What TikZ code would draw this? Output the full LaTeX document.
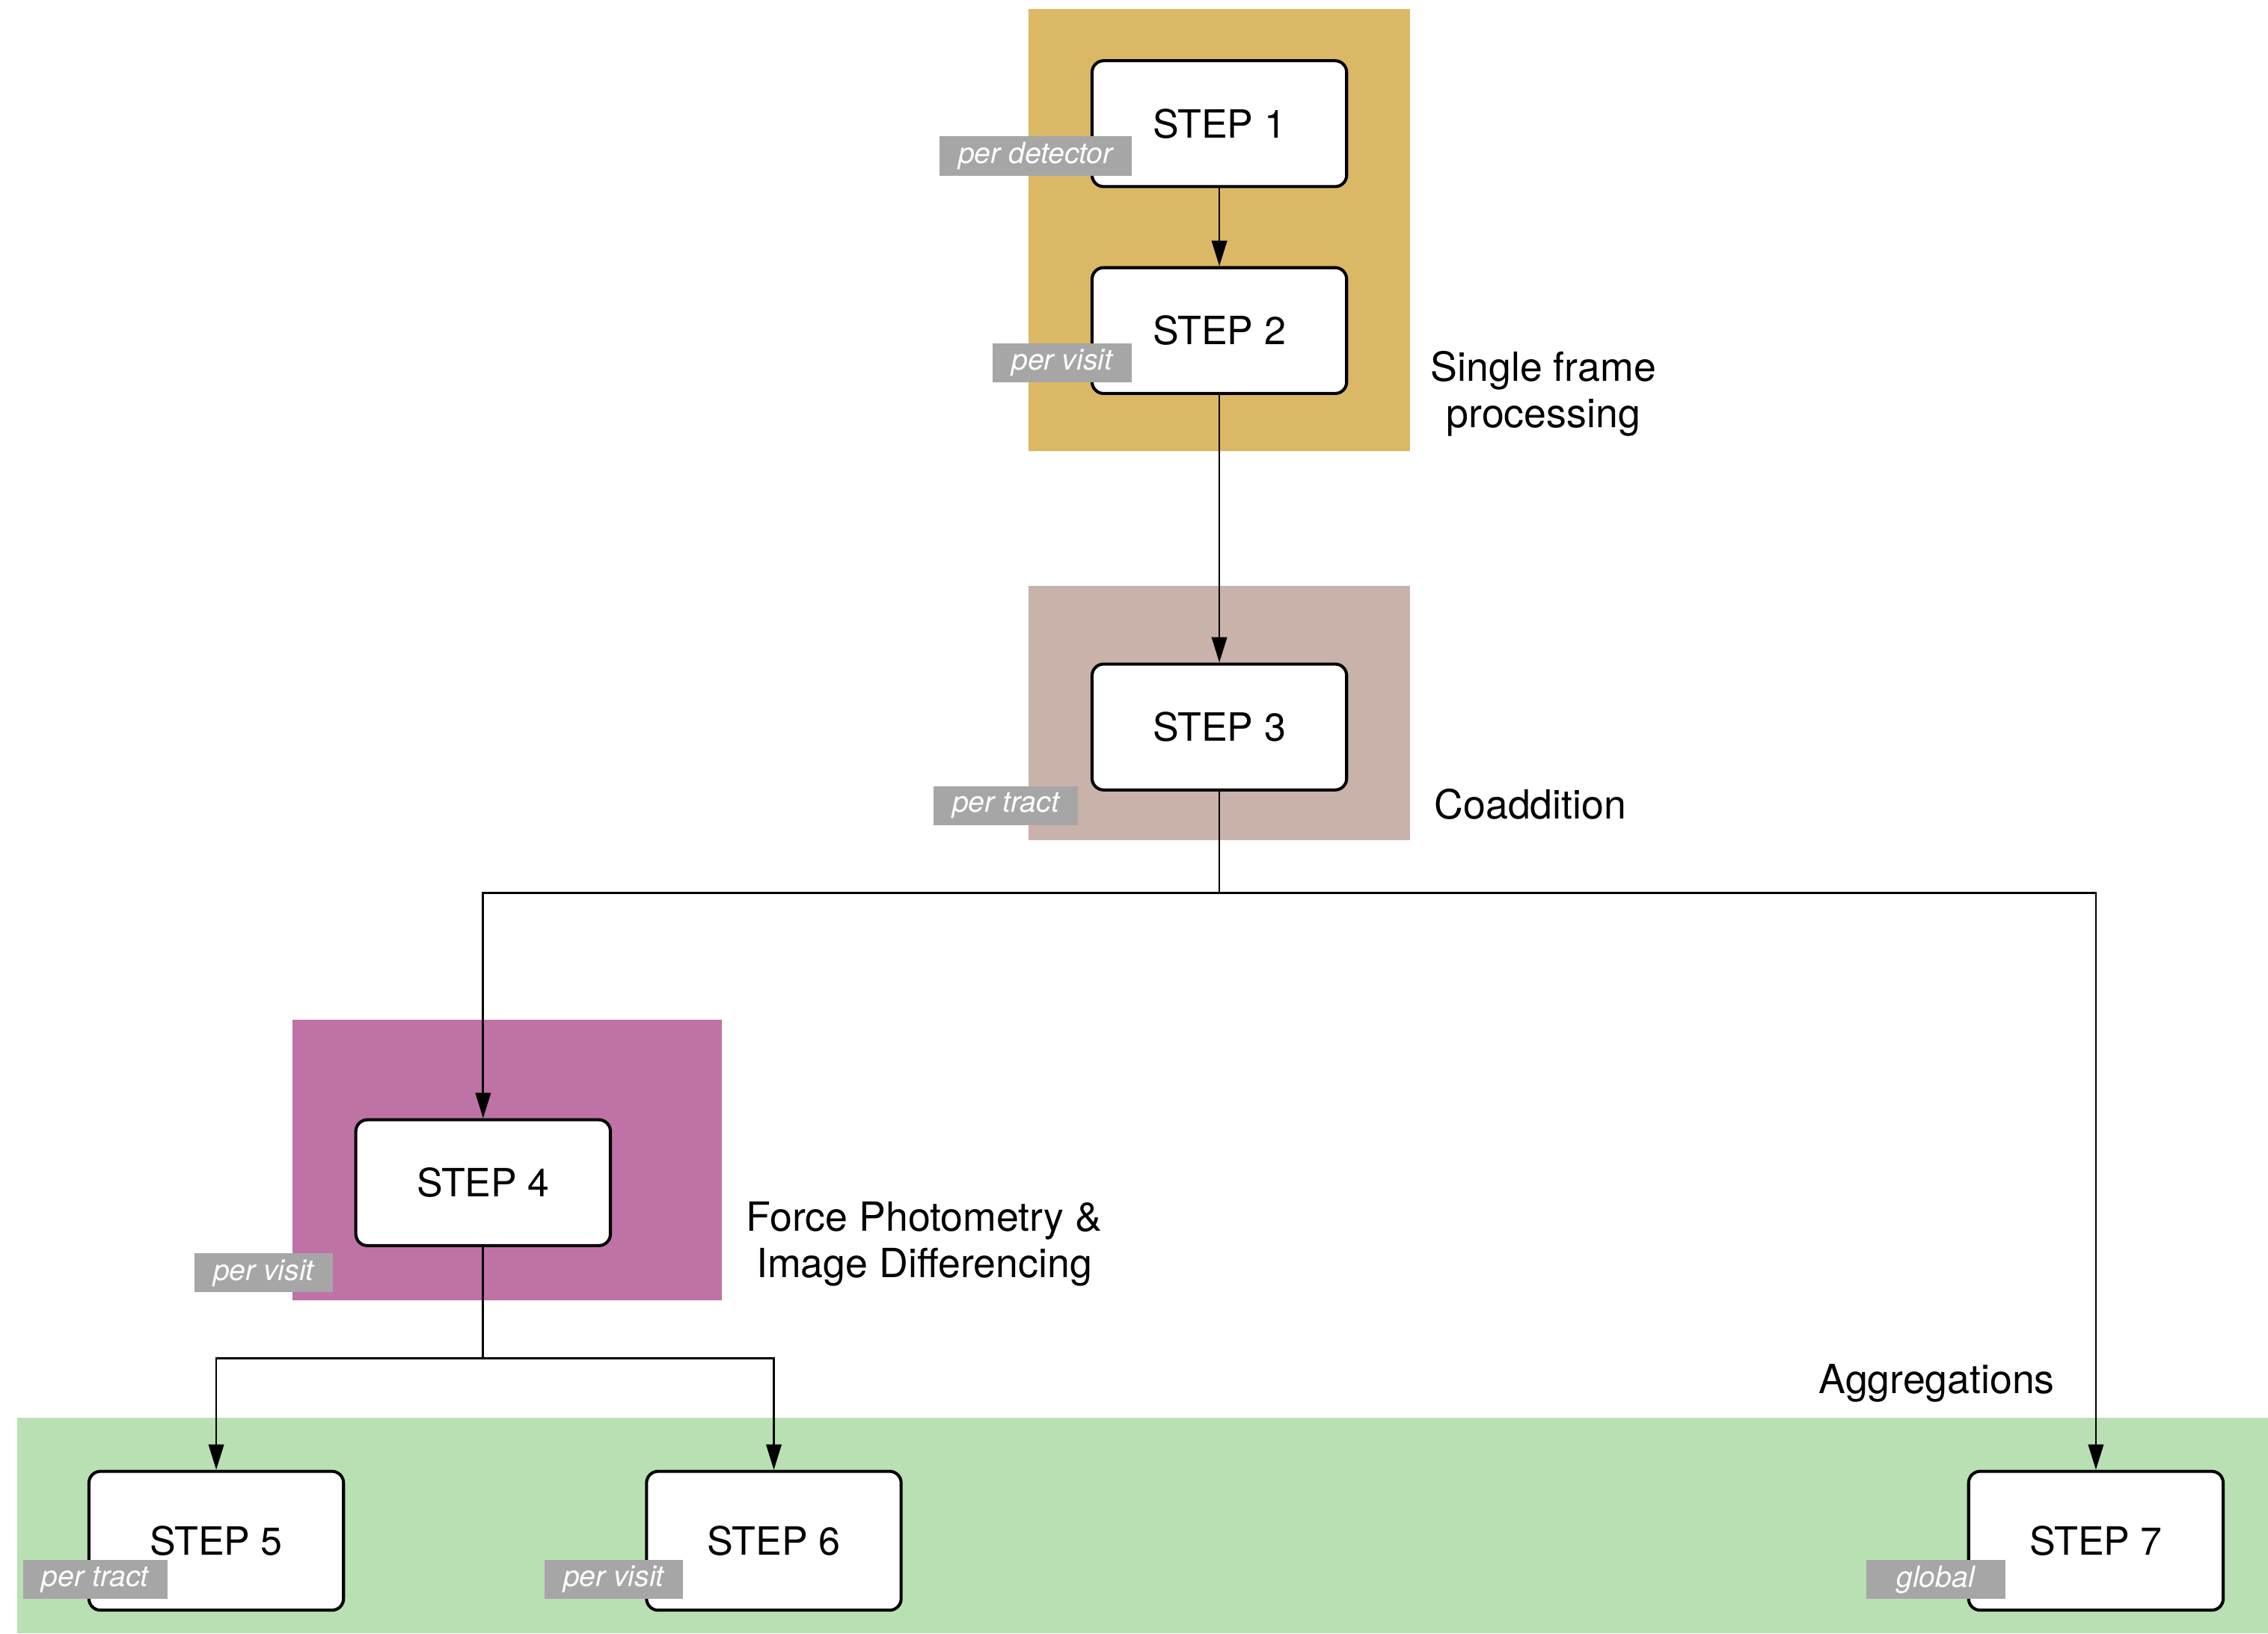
\documentclass[tikz,border=0pt]{standalone}
\usepackage{fontspec}
\setmainfont{TeX Gyre Heros}
\usepackage{tikz}
\usetikzlibrary{positioning,arrows.meta}
\definecolor{sfpgold}{RGB}{219,184,102}
\definecolor{coaddtaupe}{RGB}{201,178,170}
\definecolor{forcemagenta}{RGB}{191,114,166}
\definecolor{aggrgreen}{RGB}{185,224,179}
\definecolor{taggray}{RGB}{166,166,166}
\tikzset{
  stepbox/.style={draw, very thick, rounded corners=0.16cm, fill=white,
    minimum width=3.52cm, minimum height=1.74cm,
    font=\fontsize{15.3}{18}\selectfont},
  tag/.style={fill=taggray, text=white, anchor=south east,
    minimum width=1.92cm, minimum height=0.54cm, inner xsep=0.26cm, inner ysep=0pt,
    font=\itshape\fontsize{11.5}{13}\selectfont},
  grouptext/.style={align=center, font=\fontsize{15.8}{18.2}\selectfont}
}

\begin{document}
\begin{tikzpicture}[> = {Triangle[length=10pt,width=6pt]}, node distance=3cm, on grid, thick]
        \useasboundingbox (0,0) rectangle (31.36,-22.58);
        \fill[sfpgold]      (14.22,-0.12)  rectangle (19.50,-6.24);
        \fill[coaddtaupe]   (14.22,-8.10)  rectangle (19.50,-11.62);
        \fill[forcemagenta] (4.04,-14.10)  rectangle (9.98,-17.98);
        \fill[aggrgreen]    (0.24,-19.60)  rectangle (31.36,-22.58);

        \node[stepbox] (step1) at (16.86,-1.71)                     {STEP 1};
        \node[stepbox] (step2) [below=2.86cm of step1]               {STEP 2};
        \node[stepbox] (step3) [below=5.48cm of step2]               {STEP 3};
        \node[stepbox] (step4) [below left=6.30cm and 10.18cm of step3] {STEP 4};
        \node[stepbox, minimum height=1.92cm] (step5) [below left=4.95cm and 3.69cm of step4]  {STEP 5};
        \node[stepbox, minimum height=1.92cm] (step6) [below right=4.95cm and 4.02cm of step4] {STEP 6};
        \node[stepbox, minimum height=1.92cm] (step7) [right=18.28cm of step6]                 {STEP 7};

        \node[tag] (tag1) at ([shift={(0.58,0.16)}]step1.south west)   {per detector};
        \node[tag] (tag2) at ([shift={(0.58,0.16)}]step2.south west)   {per visit};
        \node[tag] (tag3) at ([shift={(-0.16,-0.48)}]step3.south west) {per tract};
        \node[tag] (tag4) at ([shift={(-0.28,-0.64)}]step4.south west) {per visit};
        \node[tag] (tag5) at ([shift={(1.12,0.16)}]step5.south west)   {per tract};
        \node[tag] (tag6) at ([shift={(0.54,0.16)}]step6.south west)   {per visit};
        \node[tag] (tag7) at ([shift={(0.54,0.16)}]step7.south west)   {global};

        \node[grouptext] (sfp)   at (21.34,-5.44)  {Single frame\\processing};
        \node[grouptext] (coadd) at (21.16,-11.12) {Coaddition};
        \node[grouptext] (force) at (12.78,-17.20) {Force Photometry \&\\Image Differencing};
        \node[grouptext] (aggr)  at (26.78,-19.12) {Aggregations};

        \coordinate (fork3) at ([yshift=-1.40cm]step3.south);
        \coordinate (fork4) at ([yshift=-1.54cm]step4.south);

        \draw[->] (step1) -- (step2);
        \draw[->] (step2) -- (step3);
        \draw     (step3) -- (fork3);
        \draw[->] (fork3) -| (step4);
        \draw[->] (fork3) -| (step7);
        \draw     (step4) -- (fork4);
        \draw[->] (fork4) -| (step5);
        \draw[->] (fork4) -| (step6);
      \end{tikzpicture}
\end{document}
